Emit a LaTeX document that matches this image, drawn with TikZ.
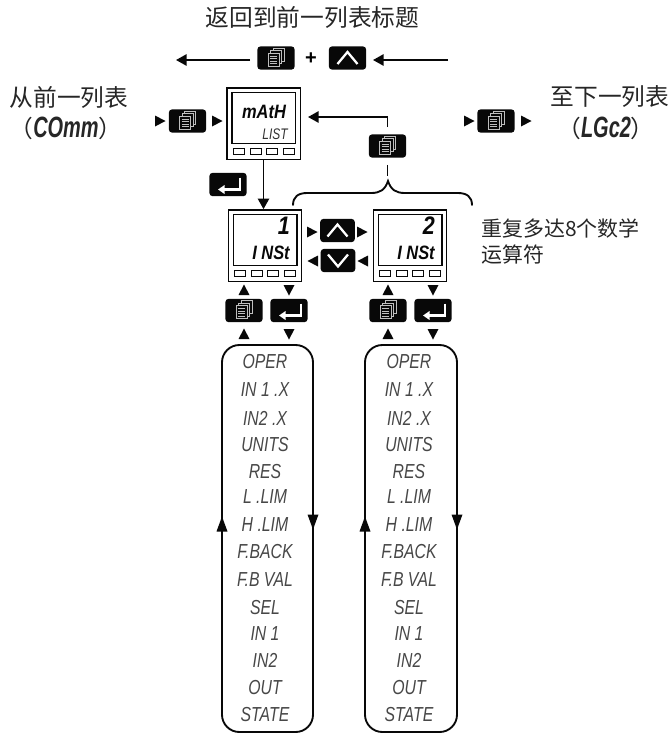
\documentclass[tikz,border=0pt]{standalone}
\usepackage{fontspec}
\usetikzlibrary{arrows.meta}
\newfontfamily\cjk{Noto Sans CJK SC}
\newfontfamily\lcd[FakeStretch=0.78]{Liberation Sans}
\newfontfamily\lcdbig[FakeStretch=0.85]{Liberation Sans}
\newfontfamily\lcdcode[FakeStretch=0.68]{Liberation Sans}
\newfontfamily\plusfont{Liberation Sans}
\definecolor{ink}{gray}{0.03}
\tikzset{
  x=0.75pt,y=-0.75pt,
  wire/.style={draw=ink,line width=1.4pt},
  wiretip/.style={wire,-{Stealth[length=8pt,width=8.5pt,inset=0pt]}},
  btn/.style={fill=ink,rounded corners=2.5pt,inner sep=0pt,minimum width=28pt,minimum height=17.5pt},
  devouter/.style={draw=ink,line width=1pt,fill=white,inner sep=0pt,minimum width=55pt,minimum height=53.5pt},
  cjktext/.style={font=\cjk\fontsize{17.8}{20}\selectfont,text=black!85,inner sep=0pt},
  cjksmall/.style={font=\cjk\fontsize{15.7}{20}\selectfont,text=black!85,inner sep=0pt,anchor=west},
  listtext/.style={font=\lcd\itshape\fontsize{15.2}{16}\selectfont,text=black!72,inner sep=0pt},
  lcdhead/.style={font=\lcdbig\bfseries\itshape\fontsize{14.5}{16}\selectfont,text=ink,inner sep=0pt},
  lcdone/.style={font=\lcdbig\bfseries\itshape\fontsize{19}{19}\selectfont,text=ink,inner sep=0pt,anchor=east},
  lcdsub/.style={font=\lcd\itshape\fontsize{11.5}{12}\selectfont,text=black!80,inner sep=0pt},
  loopbox/.style={wire,rounded corners=13pt,inner sep=0pt},
  pageicon/.pic={
    \foreach \d in {5,2.5,0}{
      \draw[white!75!black,fill=ink,line width=0.55pt] (-8+\d,-5-\d) rectangle (3+\d,8-\d);
    }
    \foreach \l in {-2,0.5,3,5.5}{
      \draw[white!75!black,line width=0.55pt] (-6,\l) -- (1,\l);
    }
  },
  upicon/.pic={\draw[white,line width=1.7pt,line join=miter] (-10,6) -- (0,-6) -- (10,6);},
  downicon/.pic={\draw[white,line width=1.7pt,line join=miter] (-10,-6) -- (0,6) -- (10,-6);},
  entericon/.pic={\draw[white,line width=1.6pt,-{Stealth[length=5pt,width=6.5pt,inset=0pt]}] (12,-7) -- (12,5) -- (-10,5);},
}
\newcommand{\mtri}[3]{\fill[ink,rotate around={#3:(#1,#2)}] (#1-5,#2-5.5) -- (#1+5.5,#2) -- (#1-5,#2+5.5) -- cycle;}
\newcommand{\bigtri}[3]{\fill[ink,rotate around={#3:(#1,#2)}] (#1-7.5,#2-5.5) -- (#1+7.5,#2) -- (#1-7.5,#2+5.5) -- cycle;}
\newcommand{\device}[3]{%
  \node[devouter] (#1) at (#2,#3) {};
  \draw[ink,line width=1pt] (#2-31.5,#3-31) rectangle (#2+32,#3+20);
  \foreach \bx in {-30.5,-13.5,2.5,19.5}{
    \draw[ink,line width=0.7pt] (#2+\bx,#3+25) rectangle (#2+\bx+11,#3+31);
  }
}
\begin{document}
\begin{tikzpicture}
\useasboundingbox (0,0) rectangle (670,733);
% titles
\node[cjktext] (title) at (312.5,17) {返回到前一列表标题};
\node[cjktext] (fromlbl) at (69,97) {从前一列表};
\node[cjktext] (fromcode) at (66,128) {（{\lcdcode\bfseries\itshape\fontsize{22}{22}\selectfont COmm}）};
\node[cjktext] (tolbl) at (610,97) {至下一列表};
\node[cjktext] (tocode) at (606,128) {（{\lcdcode\bfseries\itshape\fontsize{22}{22}\selectfont LGc2}）};
\node[cjksmall] (rep1) at (481,228) {重复多达8个数学};
\node[cjksmall] (rep2) at (481,255) {运算符};
% top row
\node[btn] (topPage) at (276,58) {};
\pic at (276,58) {pageicon};
\node[inner sep=0pt,font=\plusfont\bfseries\fontsize{15}{15}\selectfont] (plus) at (311,59) {+};
\node[btn] (topUp) at (347.5,58) {};
\pic at (347.5,58) {upicon};
\coordinate (topL) at (176,60);
\coordinate (topR) at (448,60);
\draw[wiretip] (topPage.west |- topL) ++(-7,0) -- (topL);
\draw[wiretip] (topR) -- (373,60);
% list device
\device{d0}{263.5}{123.5}
\node[lcdhead] (d0a) at (264,112) {mAtH};
\node[lcdsub,anchor=east] (d0b) at (288,134) {LIST};
% side buttons
\node[btn] (prevPage) at (187.5,121) {};
\pic at (187.5,121) {pageicon};
\mtri{160}{121}{0} \mtri{217}{121}{0}
\node[btn] (nextPage) at (496,121) {};
\pic at (496,121) {pageicon};
\mtri{469}{121}{0} \mtri{526}{121}{0}
% return loop
\node[btn] (rep) at (387.5,146) {};
\pic at (387.5,146) {pageicon};
\coordinate (retTip) at (308,117);
\draw[wiretip] (rep.north) ++(0,-7) |- (retTip);
% brace
\coordinate (braceTip) at (388,181);
\draw[wire] (rep.south) ++(0,7) -- ++(0,11);
\draw[wire,line cap=round] (293,205) .. controls (293,197) and (298,193) .. (307,193) -- (371,193) .. controls (380,193) and (385,190) .. (braceTip) .. controls (391,190) and (396,193) .. (405,193) -- (458,193) .. controls (467,193) and (472,197) .. (472,205);
% instance devices
\node[btn] (enter0) at (228,184.5) {};
\pic at (228,184.5) {entericon};
\device{d1}{265}{245.5}
\device{d2}{410}{245.5}
\draw[wiretip] (d0.south) -- (d0.south |- d1.north);
\node[lcdone] (d1a) at (290,226) {1};
\node[lcdhead,anchor=east] (d1b) at (290,253) {I NSt};
\node[lcdone] (d2a) at (435,226) {2};
\node[lcdhead,anchor=east] (d2b) at (435,253) {I NSt};
% up/down between
\node[btn,minimum width=26pt] (mUp) at (337.5,230.5) {};
\pic at (337.5,230.5) {upicon};
\node[btn,minimum width=26pt] (mDown) at (338,260.5) {};
\pic at (338,260.5) {downicon};
\mtri{312}{232}{0} \mtri{362}{232}{0}
\mtri{313}{261}{180} \mtri{363}{261}{180}
% per-instance buttons
\foreach \n/\px/\ex/\tu/\td in {a/244/289/244/289,b/388/433/388/433}{
  \node[btn] (page\n) at (\px,310.5) {};
  \pic at (\px,310.5) {pageicon};
  \node[btn] (ent\n) at (\ex,310.5) {};
  \pic at (\ex,310.5) {entericon};
  \mtri{\tu}{290}{90} \mtri{\tu}{334}{90}
  \mtri{\td}{290}{-90} \mtri{\td}{334}{-90}
}
% loops
\node[loopbox,minimum width=68.25pt,minimum height=290.25pt] (loopA) at (267.5,538.5) {};
\node[loopbox,minimum width=69pt,minimum height=290.25pt] (loopB) at (411,538.5) {};
\bigtri{222}{524}{90} \bigtri{365}{524}{90}
\bigtri{313}{522}{-90} \bigtri{457}{522}{-90}
% list items
\foreach \t/\yy [count=\i] in {OPER/362,IN 1 .X/390,IN2 .X/418,UNITS/445,RES/472,L .LIM/497,H .LIM/525,F.BACK/552,F.B VAL/580,SEL/608,IN 1/634,IN2/660,OUT/688,STATE/715}{
  \node[listtext] (la\i) at (265,\yy) {\t};
  \node[listtext] (lb\i) at (409,\yy) {\t};
}
\end{tikzpicture}
\end{document}
